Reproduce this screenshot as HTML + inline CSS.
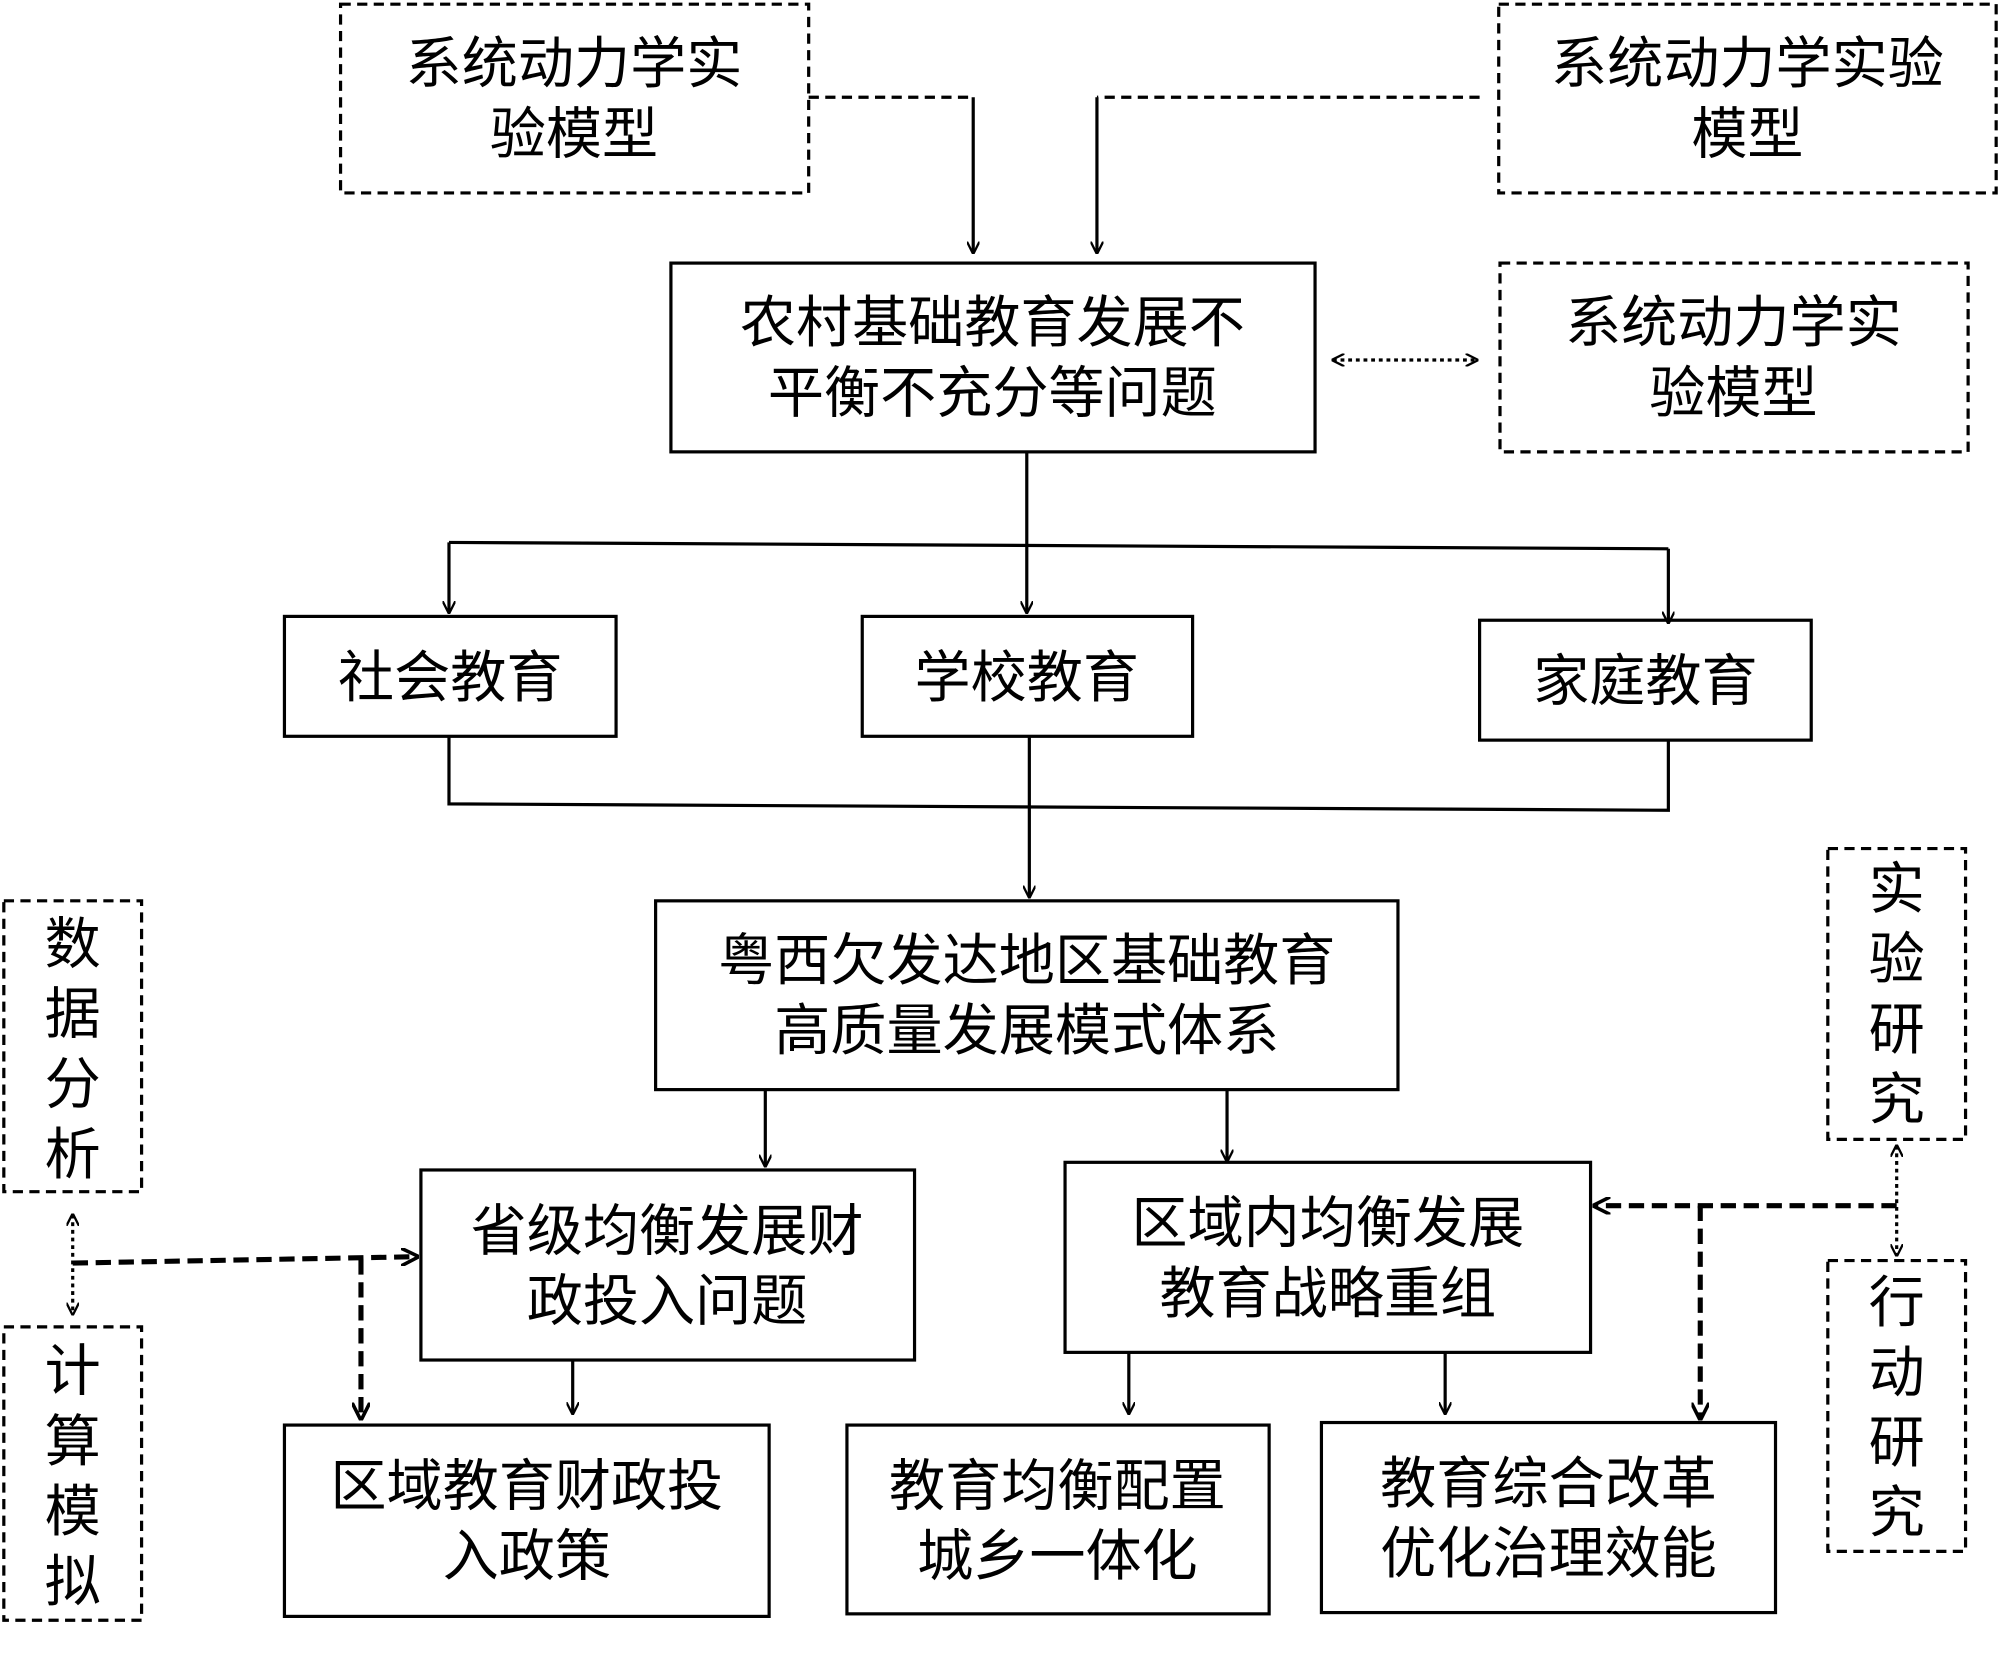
<!DOCTYPE html>
<html><head><meta charset="utf-8"><style>html,body{margin:0;padding:0;background:#fff}svg{display:block}</style></head>
<body>
<svg width="2000" height="1655" viewBox="0 0 1568 1297" xmlns="http://www.w3.org/2000/svg" font-family="'Liberation Sans','Noto Sans CJK SC',sans-serif" font-size="44" text-anchor="middle">
<defs>
<marker id="a" viewBox="0 0 10 10" refX="9" refY="5" markerWidth="10" markerHeight="10" markerUnits="userSpaceOnUse" orient="auto-start-reverse"><path d="M0,0 L10,5 L0,10" fill="none" stroke="#000" stroke-width="1.8"/></marker>
<marker id="b" viewBox="0 0 10 10" refX="9" refY="5" markerWidth="14" markerHeight="14" markerUnits="userSpaceOnUse" orient="auto-start-reverse"><path d="M0,0 L10,5 L0,10" fill="none" stroke="#000" stroke-width="2"/></marker>
</defs>
<g fill="none" stroke="#000" stroke-width="2.5">
<g stroke-dasharray="8,5">
<rect x="267" y="3" width="367" height="148"/>
<rect x="1175" y="3" width="390" height="148"/>
<rect x="1176" y="206" width="367" height="148"/>
<rect x="3" y="706" width="108" height="228"/>
<rect x="3" y="1040" width="108" height="230"/>
<rect x="1433" y="665" width="108" height="228"/>
<rect x="1433" y="988" width="108" height="228"/>
</g>
<rect x="526" y="206" width="505" height="148"/>
<rect x="223" y="483" width="260" height="94"/>
<rect x="676" y="483" width="259" height="94"/>
<rect x="1160" y="486" width="260" height="94"/>
<rect x="514" y="706" width="582" height="148"/>
<rect x="330" y="917" width="387" height="149"/>
<rect x="835" y="911" width="412" height="149"/>
<rect x="223" y="1117" width="380" height="150"/>
<rect x="664" y="1117" width="331" height="148"/>
<rect x="1036" y="1115" width="356" height="149"/>
</g>
<g fill="none" stroke="#000" stroke-width="2.5">
<path d="M634,76 H763" stroke-dasharray="8,5"/>
<path d="M763,76 V198" marker-end="url(#a)"/>
<path d="M1160,76 H860" stroke-dasharray="8,5"/>
<path d="M860,76 V198" marker-end="url(#a)"/>
<path d="M1045,282 H1158" stroke-dasharray="3,3" marker-start="url(#a)" marker-end="url(#a)"/>
<path d="M805,354 V480" marker-end="url(#a)"/>
<path d="M352,425 L1308,430"/>
<path d="M352,425 V480" marker-end="url(#a)"/>
<path d="M1308,430 V488" marker-end="url(#a)"/>
<path d="M352,577 V630 L1308,635 V580"/>
<path d="M807,577 V703" marker-end="url(#a)"/>
<path d="M600,854 V914" marker-end="url(#a)"/>
<path d="M962,854 V910" marker-end="url(#a)"/>
<path d="M449,1066 V1108" marker-end="url(#a)"/>
<path d="M885,1060 V1108" marker-end="url(#a)"/>
<path d="M1133,1060 V1108" marker-end="url(#a)"/>
<path d="M57,952 V1030" stroke-dasharray="3,3" marker-start="url(#a)" marker-end="url(#a)"/>
<path d="M1487,898 V984" stroke-dasharray="3,3" marker-start="url(#a)" marker-end="url(#a)"/>
<g stroke-width="4" stroke-dasharray="12,6">
<path d="M57,990 L327,985" marker-end="url(#b)"/>
<path d="M283,987 V1112" marker-end="url(#b)"/>
<path d="M1487,945 H1250" marker-end="url(#b)"/>
<path d="M1333,945 V1112" marker-end="url(#b)"/>
</g>
</g>
<g fill="#000">
<text x="450" y="65">系统动力学实</text><text x="450" y="120">验模型</text>
<text x="1370" y="65">系统动力学实验</text><text x="1370" y="120">模型</text>
<text x="1359" y="268">系统动力学实</text><text x="1359" y="323">验模型</text>
<text x="778" y="268">农村基础教育发展不</text><text x="778" y="323">平衡不充分等问题</text>
<text x="353" y="546">社会教育</text>
<text x="805" y="546">学校教育</text>
<text x="1290" y="549">家庭教育</text>
<text x="805" y="768">粤西欠发达地区基础教育</text><text x="805" y="823">高质量发展模式体系</text>
<text x="523" y="980">省级均衡发展财</text><text x="523" y="1035">政投入问题</text>
<text x="1041" y="974">区域内均衡发展</text><text x="1041" y="1029">教育战略重组</text>
<text x="413" y="1180">区域教育财政投</text><text x="413" y="1235">入政策</text>
<text x="829" y="1180">教育均衡配置</text><text x="829" y="1235">城乡一体化</text>
<text x="1214" y="1178">教育综合改革</text><text x="1214" y="1233">优化治理效能</text>
<text x="57" y="755">数</text><text x="57" y="810">据</text><text x="57" y="865">分</text><text x="57" y="920">析</text>
<text x="57" y="1090">计</text><text x="57" y="1145">算</text><text x="57" y="1200">模</text><text x="57" y="1255">拟</text>
<text x="1487" y="712">实</text><text x="1487" y="767">验</text><text x="1487" y="822">研</text><text x="1487" y="877">究</text>
<text x="1487" y="1036">行</text><text x="1487" y="1091">动</text><text x="1487" y="1146">研</text><text x="1487" y="1201">究</text>
</g>
</svg>
</body></html>
